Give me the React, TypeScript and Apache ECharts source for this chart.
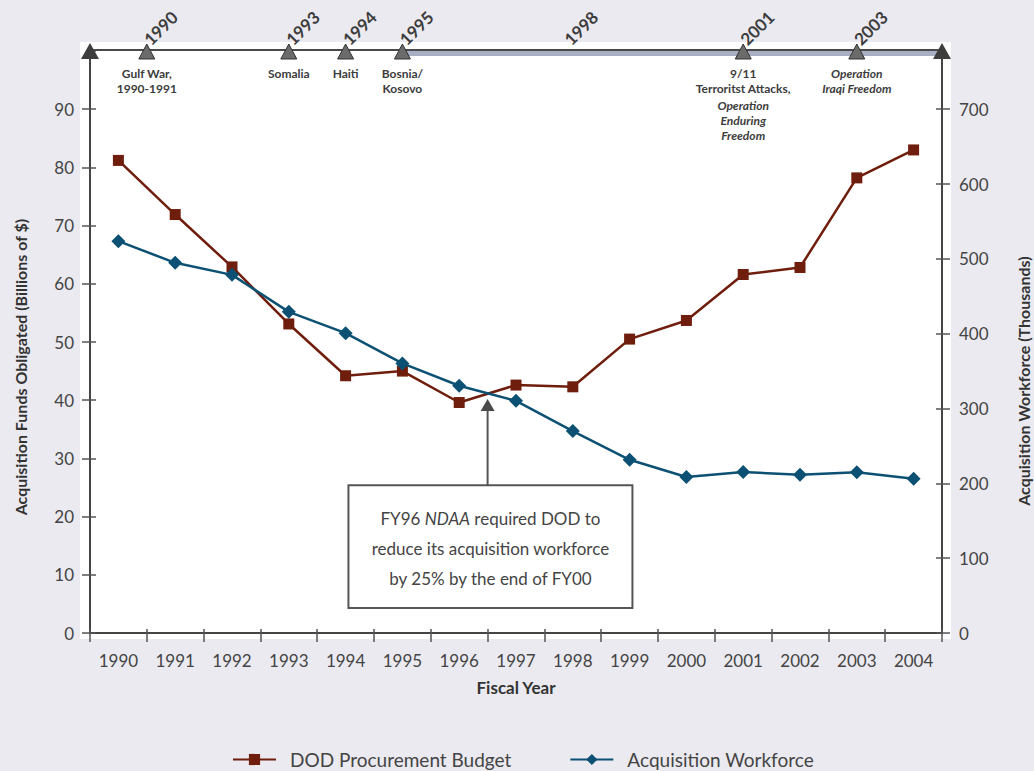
import React, { useEffect, useRef } from "react";
import * as echarts from "echarts";

const years = ["1990", "1991", "1992", "1993", "1994", "1995", "1996", "1997", "1998", "1999", "2000", "2001", "2002", "2003", "2004"];
// Billions of $ (left axis)
const procurementBudget = [81.2, 71.9, 62.9, 53.1, 44.2, 45.0, 39.6, 42.6, 42.3, 50.5, 53.7, 61.6, 62.8, 78.2, 83.0];
// Thousands (right axis)
const acquisitionWorkforce = [523.6, 494.7, 478.6, 429.2, 400.7, 360.3, 330.4, 310.3, 269.8, 231.5, 208.4, 215.1, 211.5, 214.7, 206.2];

const leftAxisMax = 100;
const leftInterval = 10;
const rightAxisMax = 7000 / 9;
const rightInterval = 100;

const seriesNames = ["DOD Procurement Budget", "Acquisition Workforce"];
const axisTitles = ["Acquisition Funds Obligated (Billions of $)", "Acquisition Workforce (Thousands)"];
const xAxisTitle = "Fiscal Year";

type TimelineEvent = { year: string; pos: number; marker: boolean; label?: string; italicLabel?: string; italicTop?: number };
const timelineEvents: TimelineEvent[] = [
  { year: "1990", pos: 0.5, marker: true, label: "Gulf War,\n1990-1991" },
  { year: "1993", pos: 3, marker: true, label: "Somalia" },
  { year: "1994", pos: 4, marker: true, label: "Haiti" },
  { year: "1995", pos: 5, marker: true, label: "Bosnia/\nKosovo" },
  { year: "1998", pos: 7.9, marker: false },
  { year: "2001", pos: 11, marker: true, label: "9/11\nTerroritst Attacks,", italicLabel: "Operation\nEnduring\nFreedom", italicTop: 47 },
  { year: "2003", pos: 13, marker: true, italicLabel: "Operation\nIraqi Freedom", italicTop: 15 },
];
const bandStartPos = 5;

const annotationText = "{n|FY96 }{i|NDAA}{n| required DOD to}\n{n|reduce its acquisition workforce}\n{n|by 25% by the end of FY00}";
const annotationArrow = { pos: 6.5, tipValue: 40.2 };
const annotationBox = { fromPos: 4.05, toPos: 9.05, topValue: 25.4, bottomValue: 4.3 };

const FONT = 'Lato, "Open Sans", "DejaVu Sans", sans-serif';
const RED = "#6f1d0c";
const BLUE = "#0c5173";
const DARK = "#444444";

export default function App() {
  const ref = useRef<HTMLDivElement>(null);

  useEffect(() => {
    if (!ref.current) return;
    const chart = echarts.init(ref.current, null, { renderer: "svg" });

    const insideY = (pos: "left" | "right", max: number, interval: number) => ({
      type: "value",
      position: pos,
      min: 0,
      max,
      interval,
      axisLine: { show: false },
      axisTick: { show: true, inside: true, length: 6, lineStyle: { color: "#555", width: 1.5 } },
      axisLabel: { show: false },
      splitLine: { show: false },
    });

    const option: any = {
      animation: false,
      backgroundColor: "#ebeaf0",
      textStyle: { fontFamily: FONT },
      grid: { left: 90, right: 92, top: 51, bottom: 138, containLabel: false },
      legend: {
        left: 227,
        top: 745,
        itemWidth: 43,
        itemHeight: 14,
        itemGap: 58,
        textStyle: { fontSize: 19, color: DARK, fontFamily: FONT, padding: [0, 0, 0, 9] },
        data: seriesNames,
      },
      xAxis: [
        {
          type: "category",
          data: years,
          position: "bottom",
          boundaryGap: true,
          axisLine: { show: true, onZero: false, lineStyle: { color: DARK, width: 2 } },
          axisTick: { show: true, interval: 0, length: 9, lineStyle: { color: "#555", width: 1.5 } },
          axisLabel: { interval: 0, fontSize: 17, color: DARK, margin: 19, fontFamily: FONT },
          splitLine: { show: false },
          name: xAxisTitle,
          nameLocation: "middle",
          nameGap: 46,
          nameTextStyle: { fontSize: 17, fontWeight: "bold", color: "#333", fontFamily: FONT },
        },
        {
          type: "category",
          data: years,
          position: "bottom",
          boundaryGap: true,
          axisLine: { show: false, onZero: false },
          axisTick: { show: true, inside: true, interval: 0, length: 4, lineStyle: { color: "#555", width: 1.5 } },
          axisLabel: { show: false },
          splitLine: { show: false },
        },
      ],
      yAxis: [
        {
          type: "value",
          position: "left",
          min: 0,
          max: leftAxisMax,
          interval: leftInterval,
          axisLine: { show: true, lineStyle: { color: DARK, width: 2 } },
          axisTick: { show: true, length: 8, lineStyle: { color: "#555", width: 1.5 } },
          axisLabel: { fontSize: 17, color: DARK, margin: 16, showMaxLabel: false, fontFamily: FONT },
          splitLine: { show: false },
        },
        insideY("left", leftAxisMax, leftInterval),
        {
          type: "value",
          position: "right",
          min: 0,
          max: rightAxisMax,
          interval: rightInterval,
          axisLine: { show: true, lineStyle: { color: DARK, width: 2 } },
          axisTick: { show: true, length: 8, lineStyle: { color: "#555", width: 1.5 } },
          axisLabel: { fontSize: 17, color: DARK, margin: 17, showMaxLabel: false, fontFamily: FONT },
          splitLine: { show: false },
        },
        insideY("right", rightAxisMax, rightInterval),
      ],
      series: [
        {
          name: seriesNames[0],
          type: "line",
          xAxisIndex: 0,
          yAxisIndex: 0,
          data: procurementBudget,
          symbol: "rect",
          symbolSize: 11,
          color: RED,
          itemStyle: { color: RED },
          lineStyle: { color: RED, width: 2.5 },
          z: 3,
        },
        {
          name: seriesNames[1],
          type: "line",
          xAxisIndex: 0,
          yAxisIndex: 2,
          data: acquisitionWorkforce,
          symbol: "diamond",
          symbolSize: 14,
          color: BLUE,
          itemStyle: { color: BLUE },
          lineStyle: { color: BLUE, width: 2.5 },
          z: 4,
        },
      ],
    };

    chart.setOption(option);

    const c0 = chart.convertToPixel({ xAxisIndex: 0 }, years[0]) as number;
    const c1 = chart.convertToPixel({ xAxisIndex: 0 }, years[1]) as number;
    const step = c1 - c0;
    const cx = (pos: number) => c0 + pos * step;
    const ly = (v: number) => chart.convertToPixel({ yAxisIndex: 0 }, v) as number;
    const xLeft = cx(-0.5);
    const xRight = cx(years.length - 0.5);
    const yTop = ly(leftAxisMax);
    const yBottom = ly(0);

    const txt = (x: number, y: number, style: any, extra: any = {}) => ({
      type: "text",
      x,
      y,
      z: 20,
      ...extra,
      style: {
        fontFamily: FONT,
        fill: "#3c3c3c",
        ...style,
        textAlign: style.align,
        textVerticalAlign: style.verticalAlign,
      },
    });

    const elements: any[] = [];
    // white plot backdrop
    elements.push({
      type: "rect",
      z: -10,
      shape: { x: xLeft - 10, y: yTop - 9, width: xRight - xLeft + 19, height: yBottom - yTop + 15 },
      style: { fill: "#ffffff" },
    });
    // timeline band + line
    elements.push({
      type: "rect",
      z: 15,
      shape: { x: cx(bandStartPos), y: yTop, width: xRight - cx(bandStartPos), height: 5 },
      style: { fill: "#a9afc2" },
    });
    elements.push({
      type: "line",
      z: 16,
      shape: { x1: xLeft, y1: yTop - 1, x2: xRight, y2: yTop - 1 },
      style: { stroke: "#4a4a4a", lineWidth: 2 },
    });
    // axis arrow heads
    [xLeft, xRight].forEach((x) => {
      elements.push({
        type: "polygon",
        z: 18,
        shape: { points: [[x - 9, yTop + 8], [x, yTop - 8], [x + 9, yTop + 8]] },
        style: { fill: "#3d3d3d" },
      });
    });
    // events
    timelineEvents.forEach((ev) => {
      const x = cx(ev.pos);
      if (ev.marker) {
        elements.push({
          type: "polygon",
          z: 18,
          shape: { points: [[x - 8, yTop + 8], [x, yTop - 7], [x + 8, yTop + 8]] },
          style: { fill: "#6b6b6b", stroke: "#333", lineWidth: 1 },
        });
      }
      elements.push(
        txt(
          x + 6,
          yTop - 3,
          { text: ev.year, fontSize: 17, fontWeight: "bold", align: "left", verticalAlign: "bottom" },
          { rotation: Math.PI / 4 }
        )
      );
      if (ev.label) {
        elements.push(
          txt(x, yTop + 15, { text: ev.label, fontSize: 12, fontWeight: "bold", lineHeight: 15, align: "center", verticalAlign: "top" })
        );
      }
      if (ev.italicLabel) {
        elements.push(
          txt(x, yTop + (ev.italicTop ?? 15), {
            text: ev.italicLabel,
            fontSize: 12,
            fontWeight: "bold",
            fontStyle: "italic",
            lineHeight: 15,
            align: "center",
            verticalAlign: "top",
          })
        );
      }
    });

    // annotation
    const ax = cx(annotationArrow.pos);
    const tipY = ly(annotationArrow.tipValue);
    const bx1 = cx(annotationBox.fromPos);
    const bx2 = cx(annotationBox.toPos);
    const by1 = ly(annotationBox.topValue);
    const by2 = ly(annotationBox.bottomValue);
    elements.push({
      type: "line",
      z: 20,
      shape: { x1: ax, y1: tipY + 10, x2: ax, y2: by1 },
      style: { stroke: "#555", lineWidth: 2 },
    });
    elements.push({
      type: "polygon",
      z: 20,
      shape: { points: [[ax - 7, tipY + 12], [ax, tipY], [ax + 7, tipY + 12]] },
      style: { fill: "#4a4a4a" },
    });
    elements.push({
      type: "rect",
      z: 20,
      shape: { x: bx1, y: by1, width: bx2 - bx1, height: by2 - by1 },
      style: { fill: "#ffffff", stroke: "#555", lineWidth: 2 },
    });
    elements.push(
      txt((bx1 + bx2) / 2, (by1 + by2) / 2 + 2, {
        text: annotationText,
        align: "center",
        verticalAlign: "middle",
        rich: {
          n: { fontSize: 17, lineHeight: 30, fill: DARK, fontFamily: FONT },
          i: { fontSize: 17, lineHeight: 30, fill: DARK, fontStyle: "italic", fontFamily: FONT },
        },
      })
    );

    // axis titles
    const midY = (ly(90) + yBottom) / 2;
    elements.push(
      txt(xLeft - 70, midY - 4, { text: axisTitles[0], fontSize: 16, fontWeight: "bold", fill: "#333", align: "center", verticalAlign: "middle" }, { rotation: Math.PI / 2 })
    );
    elements.push(
      txt(xRight + 81, midY + 10, { text: axisTitles[1], fontSize: 16, fontWeight: "bold", fill: "#333", align: "center", verticalAlign: "middle" }, { rotation: Math.PI / 2 })
    );

    chart.setOption({ graphic: { elements } });

    return () => chart.dispose();
  }, []);

  return <div ref={ref} style={{ position: "absolute", left: 0, top: 0, width: 1034, height: 771 }} />;
}
